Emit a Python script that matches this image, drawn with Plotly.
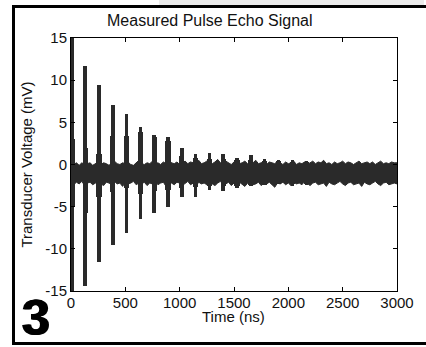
import plotly.graph_objects as go

# ---------------- data ----------------
pulse_t = [10, 130, 257, 385, 512, 638, 765, 892, 1020, 1147, 1275, 1400, 1527, 1655, 1782, 1910, 2037, 2165]
pulse_pos = [16.0, 11.7, 9.4, 7.1, 6.0, 4.5, 3.5, 3.3, 1.9, 1.3, 1.4, 1.2, 0.8, 1.1, 0.7, 0.5, 0.5, 0.4]
pulse_neg = [-16.0, -14.4, -11.6, -9.5, -8.1, -6.5, -5.7, -5.0, -3.9, -3.8, -3.0, -3.1, -2.8, -2.6, -2.4, -2.3, -2.5, -2.4]
shoulder_pos = [3.0, 2.0, 1.2, 3.4, 3.4, 3.9, 3.3, 2.8, 1.0, 0.8, 0.7, 0.6, 0.5, 0.5, 0.4, 0.4, 0.3, 0.3]
shoulder_neg = [-5.0, -5.7, -3.8, -3.3, -2.8, -3.5, -3.2, -3.0, -2.8, -2.7, -2.6, -2.5, -2.5, -2.4, -2.4, -2.3, -2.3, -2.3]

noise_t = [i * 25 for i in range(121)]
noise_hi = [0.1, 0.0, 0.2, -0.1, 0.2, 0.0, 0.1, 0.2, -0.1, 0.1,
            0.3, 0.0, 0.2, 0.1, -0.1, 0.2, 0.4, 0.1, 0.0, 0.2,
            0.1, 0.3, 0.0, -0.1, 0.2, 0.5, 0.1, 0.0, 0.2, 0.1,
            0.4, 0.1, 0.2, 0.0, 0.3, 0.1, 0.6, 0.2, 0.1, 0.3,
            0.0, 0.2, 0.4, 0.1, 0.3, 0.2, 0.0, 0.5, 0.1, 0.2,
            0.4, 0.2, 0.1, 0.3, 0.6, 0.2, 0.1, 0.4, 0.2, 0.0,
            0.3, 0.5, 0.1, 0.2, 0.4, 0.1, 0.3, 0.2, 0.5, 0.1,
            0.2, 0.4, 0.0, 0.3, 0.2, 0.1, 0.4, 0.2, 0.0, 0.3,
            0.1, 0.2, 0.4, 0.0, 0.2, 0.1, 0.3, 0.0, 0.2, 0.4,
            0.1, 0.3, 0.2, 0.5, 0.1, 0.2, 0.0, 0.3, 0.1, 0.2,
            0.4, 0.1, 0.3, 0.2, 0.0, 0.2, 0.4, 0.1, 0.2, 0.3,
            0.1, 0.3, 0.0, 0.2, 0.4, 0.1, 0.2, 0.1, 0.3, 0.2,
            0.2]
noise_lo = [-2.2, -2.4, -2.1, -2.3, -2.0, -2.5, -2.2, -2.1, -2.4, -2.2,
            -2.0, -2.3, -2.5, -2.1, -2.2, -2.4, -2.0, -2.3, -2.2, -2.6,
            -2.1, -2.3, -2.2, -2.0, -2.4, -2.2, -2.3, -2.1, -2.5, -2.2,
            -2.3, -2.0, -2.4, -2.2, -2.1, -2.6, -2.3, -2.2, -2.4, -2.1,
            -2.2, -2.5, -2.3, -2.0, -2.4, -2.2, -2.6, -2.1, -2.3, -2.2,
            -2.4, -2.1, -2.3, -2.5, -2.2, -2.0, -2.4, -2.3, -2.1, -2.5,
            -2.2, -2.4, -2.1, -2.3, -2.6, -2.2, -2.0, -2.4, -2.3, -2.1,
            -2.5, -2.2, -2.3, -2.1, -2.4, -2.7, -2.2, -2.3, -2.1, -2.4,
            -2.2, -2.5, -2.1, -2.3, -2.2, -2.4, -2.0, -2.3, -2.5, -2.2,
            -2.1, -2.4, -2.3, -2.2, -2.6, -2.1, -2.3, -2.4, -2.2, -2.0,
            -2.3, -2.5, -2.2, -2.1, -2.4, -2.3, -2.2, -2.6, -2.1, -2.3,
            -2.4, -2.2, -2.0, -2.3, -2.5, -2.2, -2.1, -2.4, -2.3, -2.2,
            -2.3]

x_ticks = [0, 500, 1000, 1500, 2000, 2500, 3000]
y_ticks = [-15, -10, -5, 0, 5, 10, 15]

# ---------------- figure ----------------
INK = "#2a2a2a"
TXT = "#111"
FONT = "Liberation Sans, Arial, sans-serif"

fig = go.Figure()

# noise band
fig.add_trace(go.Scatter(x=noise_t, y=noise_lo, mode="lines",
                         line=dict(color=INK, width=1), hoverinfo="skip", showlegend=False))
fig.add_trace(go.Scatter(x=noise_t, y=noise_hi, mode="lines", fill="tonexty",
                         fillcolor=INK, line=dict(color=INK, width=1),
                         hoverinfo="skip", showlegend=False))

# pulse shoulders (wider, shorter)
fig.add_trace(go.Bar(x=pulse_t, y=[p - n for p, n in zip(shoulder_pos, shoulder_neg)],
                     base=shoulder_neg, width=48, marker=dict(color=INK, line=dict(width=0)),
                     hoverinfo="skip", showlegend=False))
# main pulse spikes
fig.add_trace(go.Bar(x=pulse_t, y=[p - n for p, n in zip(pulse_pos, pulse_neg)],
                     base=pulse_neg, width=32, marker=dict(color=INK, line=dict(width=0)),
                     hoverinfo="skip", showlegend=False))

L, R, T, B = 71, 26, 38, 56
W, H = 426, 347
pw, ph = W - L - R, H - T - B

def px(xp):
    return (xp - L) / pw

def py(yp):
    return (H - B - yp) / ph

def bar_note(x0, y0, w, h, color):
    return dict(text=" ", xref="paper", yref="paper", x=px(x0), y=py(y0),
                xanchor="left", yanchor="top", showarrow=False,
                width=w, height=h, bgcolor=color, borderpad=0, borderwidth=0,
                font=dict(size=1))

axis_common = dict(showline=True, linecolor="black", linewidth=1, mirror="ticks",
                   ticks="inside", ticklen=4, tickcolor="black", tickwidth=1,
                   showgrid=False, zeroline=False,
                   tickfont=dict(family=FONT, size=15, color=TXT))

fig.update_layout(
    width=W, height=H,
    margin=dict(l=L, r=R, t=T, b=B),
    paper_bgcolor="white", plot_bgcolor="white",
    barmode="overlay", bargap=0,
    title=dict(text="Measured Pulse Echo Signal", x=px(233), xanchor="center",
               y=1 - 20 / H, yanchor="middle",
               font=dict(family=FONT, size=16, color=TXT)),
    xaxis=dict(range=[0, 3000], tickvals=x_ticks, ticktext=[str(v) for v in x_ticks],
               ticklabelstandoff=-2, **axis_common),
    yaxis=dict(range=[-15, 15], tickvals=y_ticks, ticktext=[str(v) for v in y_ticks],
               title=dict(text="Transducer Voltage (mV)", standoff=9,
                          font=dict(family=FONT, size=15, color=TXT)),
               **axis_common),
    annotations=[
        # light grey strip above the frame
        bar_note(160, 0, 265, 5, "#ebebeb"),
        # outer frame (left, top, bottom edges)
        bar_note(11, 5, 414, 3, "black"),
        bar_note(11, 5, 3, 340, "black"),
        bar_note(11, 342, 414, 3, "black"),
        # x axis title
        dict(text="Time (ns)", xref="paper", yref="paper", x=px(235), y=py(316),
             xanchor="center", yanchor="middle", showarrow=False,
             font=dict(family=FONT, size=15, color=TXT)),
        # panel number
        dict(text="<b>3</b>", xref="paper", yref="paper", x=px(36), y=py(318),
             xanchor="center", yanchor="middle", showarrow=False,
             font=dict(family=FONT, size=50, color="black",
                       shadow="1px 0px 0px black, -1px 0px 0px black")),
    ],
)

fig.write_html("out.html", config={"displayModeBar": False},
               post_script="var s=document.createElement('style');"
                           "s.textContent='html,body{margin:0;padding:0;overflow:hidden;}"
                           "::-webkit-scrollbar{display:none;width:0;height:0;}';"
                           "document.head.appendChild(s);"
                           "document.documentElement.style.overflow='hidden';"
                           "document.body.style.margin='0';document.body.style.overflow='hidden';")
